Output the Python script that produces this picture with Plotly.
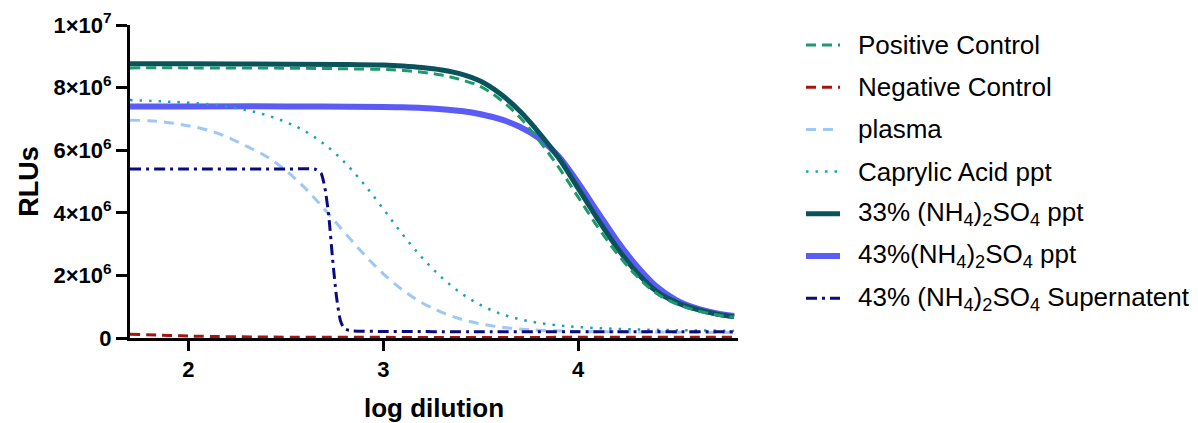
import plotly.graph_objects as go

# ---- data (x = log dilution, y = RLUs in millions) ----
pos_x = [1.7, 2.0, 2.5, 3.0, 3.1, 3.2, 3.3, 3.4, 3.5, 3.6, 3.7, 3.8, 3.9, 4.0, 4.1, 4.2, 4.3, 4.4, 4.5, 4.6, 4.7, 4.8]
pos_y = [8.63, 8.63, 8.62, 8.58, 8.55, 8.49, 8.4, 8.25, 8.03, 7.62, 7.05, 6.3, 5.45, 4.5, 3.55, 2.7, 1.98, 1.43, 1.1, 0.89, 0.75, 0.66]

neg_x = [1.7, 1.9, 2.1, 2.4, 3.0, 4.0, 4.8]
neg_y = [0.12, 0.08, 0.05, 0.03, 0.02, 0.02, 0.02]

pla_x = [1.7, 1.8, 1.9, 2.0, 2.1, 2.2, 2.3, 2.4, 2.5, 2.6, 2.7, 2.8, 2.9, 3.0, 3.1, 3.2, 3.3, 3.4, 3.5, 3.6, 3.7, 3.8, 4.0, 4.4, 4.8]
pla_y = [6.96, 6.94, 6.88, 6.78, 6.64, 6.42, 6.12, 5.8, 5.35, 4.78, 4.1, 3.38, 2.68, 2.05, 1.53, 1.12, 0.82, 0.6, 0.45, 0.35, 0.29, 0.25, 0.21, 0.19, 0.17]

cap_x = [1.7, 1.9, 2.1, 2.2, 2.3, 2.4, 2.5, 2.6, 2.7, 2.8, 2.9, 3.0, 3.1, 3.2, 3.3, 3.4, 3.5, 3.6, 3.7, 3.8, 3.9, 4.0, 4.2, 4.5, 4.8]
cap_y = [7.6, 7.55, 7.47, 7.39, 7.28, 7.12, 6.9, 6.6, 6.18, 5.62, 4.92, 4.12, 3.3, 2.56, 1.93, 1.43, 1.05, 0.78, 0.6, 0.48, 0.4, 0.35, 0.29, 0.25, 0.23]

a33_x = [1.7, 2.0, 2.5, 2.8, 3.0, 3.1, 3.2, 3.3, 3.4, 3.5, 3.6, 3.7, 3.8, 3.9, 4.0, 4.1, 4.2, 4.3, 4.4, 4.5, 4.6, 4.7, 4.8]
a33_y = [8.76, 8.76, 8.75, 8.74, 8.72, 8.69, 8.64, 8.56, 8.43, 8.2, 7.8, 7.25, 6.55, 5.75, 4.78, 3.8, 2.88, 2.1, 1.5, 1.15, 0.93, 0.78, 0.68]

a43_x = [1.7, 2.0, 2.5, 3.0, 3.1, 3.2, 3.3, 3.4, 3.5, 3.6, 3.7, 3.8, 3.9, 4.0, 4.1, 4.2, 4.3, 4.4, 4.5, 4.6, 4.7, 4.8]
a43_y = [7.4, 7.4, 7.4, 7.38, 7.37, 7.35, 7.31, 7.25, 7.15, 6.99, 6.75, 6.38, 5.8, 4.95, 4.02, 3.1, 2.3, 1.65, 1.22, 0.96, 0.8, 0.7]

sup_x = [1.7, 2.0, 2.5, 2.65, 2.68, 2.70, 2.72, 2.74, 2.76, 2.78, 2.80, 2.84, 3.0, 3.5, 4.0, 4.8]
sup_y = [5.4, 5.4, 5.4, 5.39, 5.27, 4.8, 3.9, 2.5, 1.3, 0.55, 0.3, 0.23, 0.21, 0.2, 0.2, 0.2]

y_tick_vals = [0, 2e6, 4e6, 6e6, 8e6, 1e7]
y_tick_text = ["0", "2×10<sup>6</sup>", "4×10<sup>6</sup>", "6×10<sup>6</sup>", "8×10<sup>6</sup>", "1×10<sup>7</sup>"]
x_tick_vals = [2, 3, 4]

SUB = "(NH<sub>4</sub>)<sub>2</sub>SO<sub>4</sub>"
legend_order = ["pos", "neg", "pla", "cap", "a33", "a43", "sup"]
names = {
    "pos": "Positive Control",
    "neg": "Negative Control",
    "pla": "plasma",
    "cap": "Caprylic Acid ppt",
    "a33": "33% " + SUB + " ppt",
    "a43": "43%" + SUB + " ppt",
    "sup": "43% " + SUB + " Supernatent",
}
styles = {
    "pos": dict(color="#1d9a6c", width=3, dash="10px,6px"),
    "neg": dict(color="#a81212", width=3, dash="10px,6px"),
    "pla": dict(color="#9ec8f6", width=3, dash="10px,7px"),
    "cap": dict(color="#18a3bd", width=2.5, dash="2.5px,7px"),
    "a33": dict(color="#0b535c", width=5, dash="solid"),
    "a43": dict(color="#5b5bf6", width=6, dash="solid"),
    "sup": dict(color="#0b0b80", width=3, dash="11px,5px,3px,5px"),
}
series = {
    "pos": (pos_x, pos_y), "neg": (neg_x, neg_y), "pla": (pla_x, pla_y),
    "cap": (cap_x, cap_y), "a33": (a33_x, a33_y), "a43": (a43_x, a43_y),
    "sup": (sup_x, sup_y),
}

fig = go.Figure()

# draw order (bottom to top)
for key in ["a43", "a33", "pos", "pla", "cap", "sup", "neg"]:
    xs, ys = series[key]
    st = styles[key]
    fig.add_trace(go.Scatter(
        x=xs, y=[v * 1e6 for v in ys], mode="lines", name=names[key],
        line=dict(color=st["color"], width=st["width"], dash=st["dash"],
                  shape="spline", smoothing=0.6 if key == "sup" else 1.0),
        cliponaxis=False, showlegend=False,
    ))

FONT = "Liberation Sans, Arial, sans-serif"
W, H = 1198, 423
ML, MR, MT, MB = 130, 460, 25, 85
PW, PH = W - ML - MR, H - MT - MB

def px_to_paper(px, py):
    return (px - ML) / PW, (H - MB - py) / PH

# manual legend (layout only)
leg_top, leg_step = 45, 42.2
sample_x0, sample_x1, text_x = 806, 840, 856
shapes, annotations = [], []
for i, key in enumerate(legend_order):
    cy = leg_top + i * leg_step
    x0, y0 = px_to_paper(sample_x0, cy)
    x1, _ = px_to_paper(sample_x1, cy)
    xt, _ = px_to_paper(text_x, cy)
    st = styles[key]
    shapes.append(dict(type="line", xref="paper", yref="paper", x0=x0, x1=x1, y0=y0, y1=y0,
                       line=dict(color=st["color"], width=st["width"], dash=st["dash"])))
    annotations.append(dict(text=names[key], xref="paper", yref="paper", x=xt, y=y0,
                            xanchor="left", yanchor="middle", showarrow=False,
                            font=dict(family=FONT, size=26, color="black")))

fig.update_layout(
    width=W, height=H,
    margin=dict(l=ML, r=MR, t=MT, b=MB),
    paper_bgcolor="white", plot_bgcolor="white",
    showlegend=False,
    shapes=shapes, annotations=annotations,
    xaxis=dict(
        range=[1.7, 4.82], tickmode="array", tickvals=x_tick_vals,
        ticktext=[str(v) for v in x_tick_vals], automargin=False,
        showline=True, linecolor="black", linewidth=3, layer="below traces",
        ticks="outside", ticklen=10, tickwidth=3, tickcolor="black",
        showgrid=False, zeroline=False,
        tickfont=dict(family=FONT, size=22, color="black", weight="bold"),
        title=dict(text="<b>log dilution</b>", font=dict(family=FONT, size=26, color="black"), standoff=26),
    ),
    yaxis=dict(
        range=[0, 1e7], tickmode="array", tickvals=y_tick_vals, ticktext=y_tick_text,
        automargin=False,
        showline=True, linecolor="black", linewidth=3, layer="below traces",
        ticks="outside", ticklen=11, tickwidth=3, tickcolor="black",
        showgrid=False, zeroline=False,
        tickfont=dict(family=FONT, size=22, color="black", weight="bold"),
        title=dict(text="<b>RLUs</b>", font=dict(family=FONT, size=27, color="black"), standoff=8),
    ),
)

fig.write_html("out.html")
